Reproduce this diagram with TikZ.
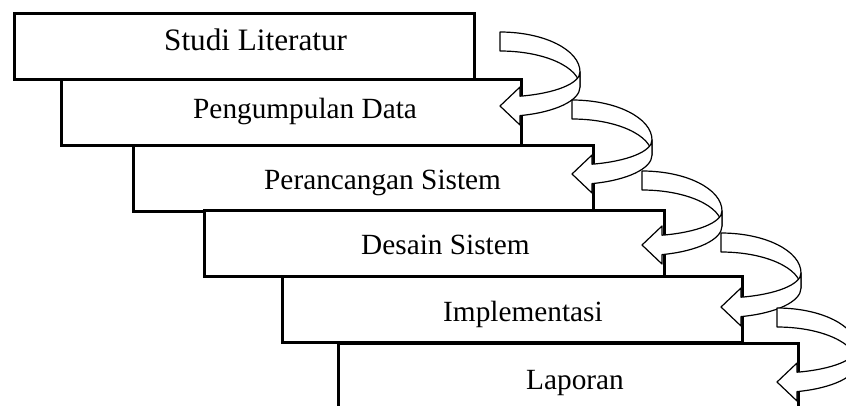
\documentclass[tikz,border=0pt]{standalone}
\usepackage{fontspec}
\setmainfont{Liberation Serif}
\usetikzlibrary{calc}

\newcommand{\bentarrow}[2]{%
  \begin{scope}[shift={(#1,-#2)}]
    \draw [arrow_style] (0,0) arc[start angle=90, end angle=0, x radius=80pt, y radius=40pt]
      -- (80,-55) arc[start angle=0, end angle=90, x radius=80pt, y radius=36pt] -- cycle;
    \draw [arrow_style] (80,-40) arc[start angle=0, end angle=-75.52, x radius=80pt, y radius=25pt]
      -- (20,-55) -- (0,-74) -- (20,-93) -- (20,-83.6)
      arc[start angle=-75.52, end angle=0, x radius=80pt, y radius=29.5pt] -- cycle;
  \end{scope}}

\begin{document}
\begin{tikzpicture}[x=1pt, y=1pt,
        box_style/.style={rectangle,draw=black,fill=white,line width=2.5pt,anchor=north west,
            minimum width=460pt,minimum height=66pt,inner sep=0pt},
        text_style/.style={anchor=base west,inner sep=0pt,font=\fontsize{29.3}{34}\selectfont},
        arrow_style/.style={draw=black,fill=white,line width=1.2pt,line join=round}]

        \useasboundingbox (0,0) rectangle (846,-405);
        \clip (0,0) rectangle (846,-405);

        \node [box_style](b1) at (13,-12) {};

        \node [box_style](b2) at (60,-78) {};

        \node [box_style](b3) at (132,-144) {};

        \node [box_style](b4) at (203,-209) {};

        \node [box_style](b5) at (281,-275) {};

        \node [box_style,minimum height=80pt](b6) at (337,-342) {};

        \node [text_style,font=\fontsize{31.2}{36}\selectfont](t1) at (164,-50) {Studi Literatur};

        \node [text_style](t2) at (193,-118) {Pengumpulan Data};

        \node [text_style](t3) at (264,-189) {Perancangan Sistem};

        \node [text_style](t4) at (361,-254) {Desain Sistem};

        \node [text_style](t5) at (443,-321) {Implementasi};

        \node [text_style](t6) at (526,-389) {Laporan};

        \bentarrow{500}{32}

        \bentarrow{572}{100}

        \bentarrow{642}{171}

        \bentarrow{721}{233}

        \bentarrow{777}{308}

\end{tikzpicture}
\end{document}
